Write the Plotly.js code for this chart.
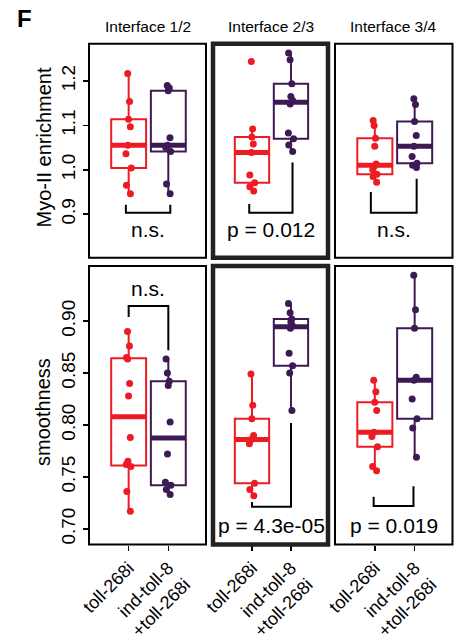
<!DOCTYPE html>
<html>
<head>
<meta charset="utf-8">
<script src="https://cdn.plot.ly/plotly-3.0.1.min.js"></script>
<style>
html, body { margin: 0; padding: 0; background: #ffffff; }
#chart { width: 465px; height: 640px; }
</style>
</head>
<body>
<div id="chart"></div>
<script>
// ---------------- DATA ----------------
const panelTitles = ["Interface 1/2", "Interface 2/3", "Interface 3/4"];
const groupPositions = [1, 2];
const groupLabels = ["toll-268i", "ind-toll-8<br>+toll-268i"];
const rowTitles = ["Myo-II enrichment", "smoothness"];

// Myo-II enrichment
const myoToll_12 = [1.217, 1.154, 1.114, 1.097, 1.055, 1.036, 1.004, 0.965, 0.946];
const myoInd_12  = [1.190, 1.184, 1.178, 1.072, 1.055, 1.050, 1.041, 0.968, 0.946];
const myoToll_23 = [1.244, 1.092, 1.074, 1.058, 1.039, 0.988, 0.971, 0.962, 0.952];
const myoInd_23  = [1.263, 1.248, 1.194, 1.165, 1.156, 1.148, 1.083, 1.070, 1.056, 1.041];
const myoToll_34 = [1.111, 1.100, 1.071, 1.053, 1.013, 1.008, 1.000, 0.990, 0.985, 0.972];
const myoInd_34  = [1.160, 1.147, 1.109, 1.077, 1.053, 1.030, 1.015, 1.010, 1.005];

// smoothness
const smoothToll_12 = [0.890, 0.876, 0.865, 0.8635, 0.840, 0.828, 0.788, 0.765, 0.762, 0.760, 0.736, 0.717];
const smoothInd_12  = [0.8635, 0.850, 0.842, 0.838, 0.803, 0.772, 0.745, 0.742, 0.738, 0.733];
const smoothToll_23 = [0.849, 0.819, 0.806, 0.790, 0.786, 0.782, 0.744, 0.738, 0.732];
const smoothInd_23  = [0.917, 0.908, 0.902, 0.899, 0.896, 0.893, 0.869, 0.857, 0.850, 0.814];
const smoothToll_34 = [0.843, 0.832, 0.822, 0.814, 0.793, 0.789, 0.779, 0.760, 0.756];
const smoothInd_34  = [0.944, 0.911, 0.893, 0.846, 0.843, 0.825, 0.806, 0.797, 0.769];

// significance labels
const sigMyo = ["n.s.", "p = 0.012", "n.s."];
const sigSmooth = ["n.s.", "p = 4.3e-05", "p = 0.019"];

// y ticks
const myoTicks = [0.9, 1.0, 1.1, 1.2];
const smoothTicks = [0.70, 0.75, 0.80, 0.85, 0.90];

// ---------------- STYLE / LAYOUT ----------------
const FONT = "Liberation Sans, Arial, Helvetica, sans-serif";
const colors = ["#ED1C24", "#3E1A55"];
const W = 465, H = 640;
const px = v => v / W;
const py = v => 1 - v / H;

const colDomains = [[px(89), px(206)], [px(213), px(328)], [px(335), px(452.5)]];
const rowDomains = [[py(257.7), py(43.7)], [py(544.5), py(266)]];
const yRanges = [[0.802, 1.284], [0.685, 0.953]];
const xRange = [0, 2.95];
const boxWidth = 0.88;

const rows = [
  { groups: [[myoToll_12, myoInd_12], [myoToll_23, myoInd_23], [myoToll_34, myoInd_34]], sig: sigMyo, ticks: myoTicks, fmt: ".1f" },
  { groups: [[smoothToll_12, smoothInd_12], [smoothToll_23, smoothInd_23], [smoothToll_34, smoothInd_34]], sig: sigSmooth, ticks: smoothTicks, fmt: ".2f" }
];

// bracket geometry (annotation graphics): [xL, xR, yBar, yLegL, yLegR, yText]
const brackets = [
  [[0.93, 2.05, 0.903, 0.921, 0.921, 0.866], [0.93, 2.04, 0.903, 0.923, 1.0165, 0.866], [0.90, 2.05, 0.903, 0.950, 0.980, 0.866]],
  [[1.0, 2.0, 0.9144, 0.904, 0.872, 0.931], [1.0, 2.0, 0.7214, 0.726, 0.802, 0.703], [0.97, 1.97, 0.722, 0.731, 0.741, 0.703]]
];

function median(v) {
  const s = [...v].sort((a, b) => a - b);
  const n = s.length;
  return n % 2 ? s[(n - 1) / 2] : (s[n / 2 - 1] + s[n / 2]) / 2;
}

const data = [];
const shapes = [];
const annotations = [];
const layout = {
  width: W, height: H,
  margin: { l: 0, r: 0, t: 0, b: 0, pad: 0 },
  paper_bgcolor: "#ffffff",
  plot_bgcolor: "#ffffff",
  showlegend: false,
  boxmode: "overlay",
  font: { family: FONT, color: "#000000", size: 18 },
  shapes: shapes,
  annotations: annotations
};

rows.forEach((row, r) => {
  row.groups.forEach((pair, c) => {
    const k = r * 3 + c + 1;
    const xa = k === 1 ? "x" : "x" + k;
    const ya = k === 1 ? "y" : "y" + k;
    pair.forEach((vals, g) => {
      data.push({
        type: "box",
        y: vals,
        x0: groupPositions[g],
        width: boxWidth,
        xaxis: xa, yaxis: ya,
        boxpoints: "all",
        jitter: 0.2,
        pointpos: 0,
        quartilemethod: "inclusive",
        whiskerwidth: 0,
        fillcolor: "rgba(255,255,255,0)",
        line: { color: colors[g], width: 2 },
        marker: { color: colors[g], size: 7, line: { width: 0 } },
        hoverinfo: "skip"
      });
      const m = median(vals);
      shapes.push({
        type: "line", xref: xa, yref: ya, layer: "below",
        x0: groupPositions[g] - boxWidth / 2, x1: groupPositions[g] + boxWidth / 2,
        y0: m, y1: m,
        line: { color: colors[g], width: 5 }
      });
    });

    layout["xaxis" + (k === 1 ? "" : k)] = {
      domain: colDomains[c], anchor: ya, range: xRange,
      showgrid: false, zeroline: false, showline: false,
      tickmode: "array", tickvals: groupPositions,
      ticktext: r === 1 ? groupLabels : ["", ""],
      showticklabels: r === 1,
      ticks: r === 1 ? "outside" : "",
      ticklen: 5, tickwidth: 1.5, tickcolor: "#000",
      tickangle: -45,
      tickfont: { family: FONT, size: 18, color: "#000" },
      fixedrange: true
    };
    layout["yaxis" + (k === 1 ? "" : k)] = {
      domain: rowDomains[r], anchor: xa, range: yRanges[r],
      showgrid: false, zeroline: false, showline: false,
      tickmode: "array", tickvals: row.ticks, tickformat: row.fmt,
      showticklabels: c === 0,
      ticks: c === 0 ? "outside" : "",
      ticklen: 5, tickwidth: 1.5, tickcolor: "#000",
      tickangle: -90,
      tickfont: { family: FONT, size: 19, color: "#000" },
      fixedrange: true
    };

    // panel frame
    shapes.push({
      type: "rect", xref: xa + " domain", yref: ya + " domain", layer: "above",
      x0: 0, x1: 1, y0: 0, y1: 1,
      line: { color: c === 1 ? "#222222" : "#000000", width: c === 1 ? 4.5 : 2 },
      fillcolor: "rgba(0,0,0,0)"
    });

    // significance bracket
    const b = brackets[r][c];
    shapes.push({
      type: "path", xref: xa, yref: ya, layer: "above",
      path: `M ${b[0]},${b[3]} L ${b[0]},${b[2]} L ${b[1]},${b[2]} L ${b[1]},${b[4]}`,
      line: { color: "#000000", width: 2 }
    });
    annotations.push({
      xref: xa, yref: ya, x: (b[0] + b[1]) / 2, y: b[5],
      text: row.sig[c], showarrow: false,
      xanchor: "center", yanchor: "middle",
      font: { family: FONT, size: 21, color: "#000" }
    });
  });
});

// panel titles
panelTitles.forEach((t, c) => {
  annotations.push({
    xref: "paper", yref: "paper",
    x: (colDomains[c][0] + colDomains[c][1]) / 2, y: py(26),
    text: t, showarrow: false, xanchor: "center", yanchor: "middle",
    font: { family: FONT, size: 15.5, color: "#000" }
  });
});

// row (y-axis) titles
annotations.push({
  xref: "paper", yref: "paper", x: px(43), y: py(147.5),
  text: rowTitles[0], textangle: -90, showarrow: false,
  xanchor: "center", yanchor: "middle",
  font: { family: FONT, size: 20, color: "#000" }
});
annotations.push({
  xref: "paper", yref: "paper", x: px(43), y: py(412),
  text: rowTitles[1], textangle: -90, showarrow: false,
  xanchor: "center", yanchor: "middle",
  font: { family: FONT, size: 20, color: "#000" }
});

// panel letter
annotations.push({
  xref: "paper", yref: "paper", x: px(24.5), y: py(18.5),
  text: "<b>F</b>", showarrow: false, xanchor: "center", yanchor: "middle",
  font: { family: FONT, size: 24, color: "#000" }
});

Plotly.newPlot("chart", data, layout, { displayModeBar: false, staticPlot: true });
</script>
</body>
</html>
